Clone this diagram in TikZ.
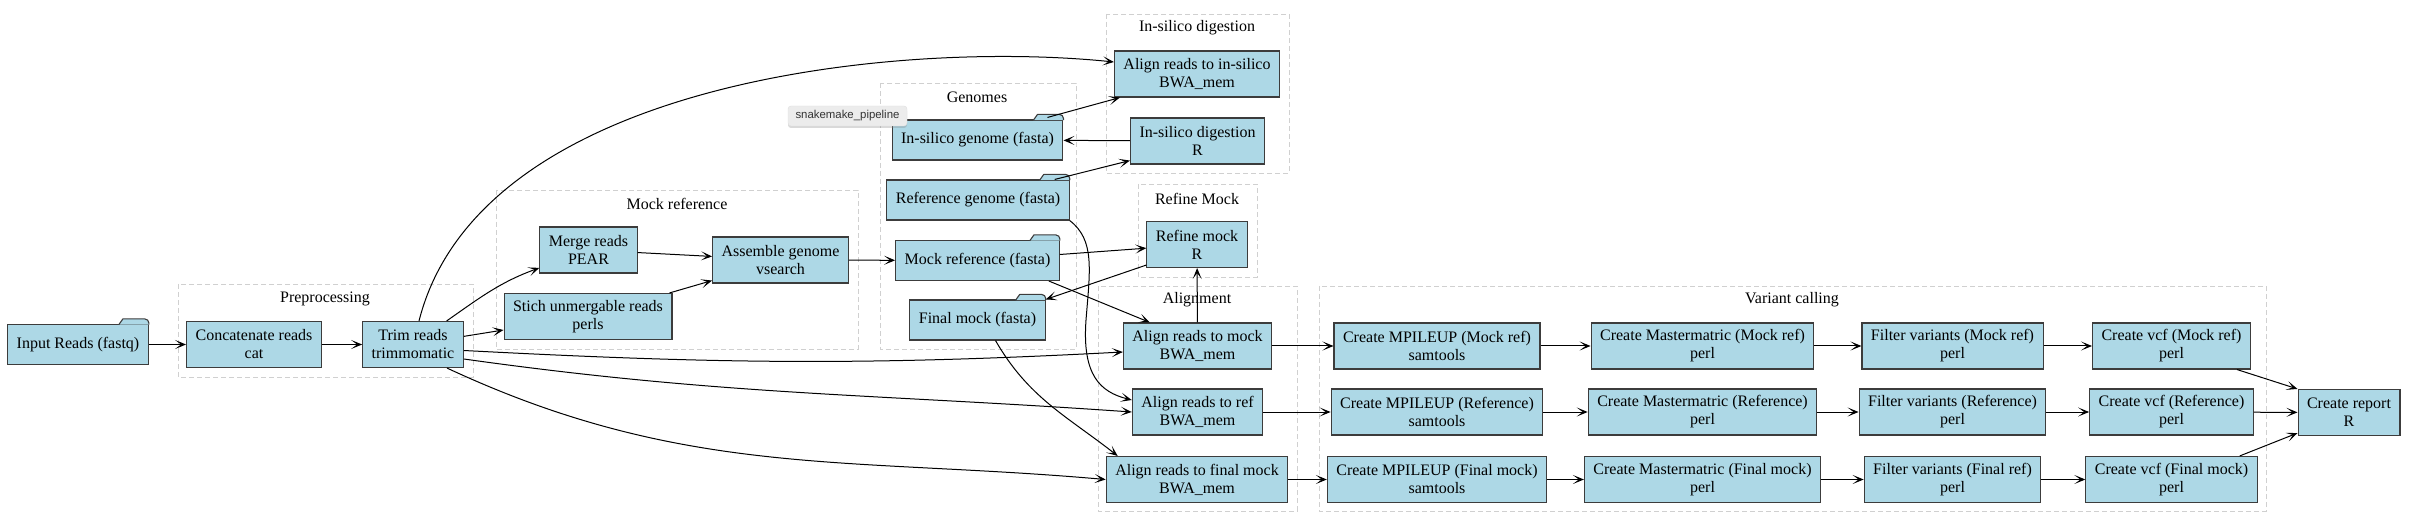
\documentclass[tikz,border=0pt]{standalone}
\usepackage{fontspec}
\setmainfont{Liberation Serif}
\newfontfamily\tipfont{Liberation Sans}
\usepackage{tikz}
\usetikzlibrary{arrows.meta, shadows}

\definecolor{boxblue}{HTML}{ADD8E6}
\definecolor{boxline}{HTML}{3C3C3C}
\definecolor{groupline}{HTML}{D0D0D0}

\tikzset{
    task/.style={draw=boxline, fill=boxblue, line width=1.1pt, align=center, inner xsep=9pt, inner ysep=2pt, minimum height=46pt},
    datafile/.style={task, minimum height=40pt},
    group/.style={draw=groupline, line width=0.9pt, dash pattern=on 5pt off 3pt},
    grouplabel/.style={inner sep=0pt},
    flow/.style={draw, -{Stealth[length=11pt,width=9pt,inset=6pt]}, line width=1pt},
    flows/.style={every edge/.style={flow}},
}

% tab on top of a data file box
\newcommand{\foldertab}[1]{%
    \filldraw[draw=boxline, fill=boxblue, line width=1.1pt, line join=round]
        ([xshift=-30pt,yshift=-0.6pt]#1.north east) -- ([xshift=-26pt,yshift=5pt]#1.north east)
        -- ([xshift=-4pt,yshift=5pt]#1.north east) to[out=0,in=90] ([yshift=1pt]#1.north east)
        -- ([yshift=-0.6pt]#1.north east);
}

\begin{document}
\begin{tikzpicture}[x=1pt, y=1pt, font=\fontsize{16}{18}\selectfont]
    \useasboundingbox (0,0) rectangle (2414,-526);

    % groups
    \draw[group] (178,-284) rectangle (473,-377);
    \node[grouplabel] (gpre) at (325,-299) {Preprocessing};
    \draw[group] (496,-190) rectangle (858,-349);
    \node[grouplabel] (gmock) at (677,-204) {Mock reference};
    \draw[group] (880,-83) rectangle (1076,-349);
    \node[grouplabel] (ggen) at (977,-97) {Genomes};
    \draw[group] (1106,-14) rectangle (1289,-173);
    \node[grouplabel] (gsil) at (1197,-28) {In-silico digestion};
    \draw[group] (1138,-184) rectangle (1257,-277);
    \node[grouplabel] (gref) at (1197,-199) {Refine Mock};
    \draw[group] (1098,-286) rectangle (1297,-511);
    \node[grouplabel] (galn) at (1197,-300) {Alignment};
    \draw[group] (1319,-286) rectangle (2266,-511);
    \node[grouplabel] (gvar) at (1792,-300) {Variant calling};

    % data files
    \node[datafile] (reads) at (78,-344.5) {Input Reads (fastq)};
    \node[datafile] (silgen) at (977.5,-140) {In-silico genome (fasta)};
    \node[datafile] (refgen) at (978,-200) {Reference genome (fasta)};
    \node[datafile] (mockref) at (977.5,-260.5) {Mock reference (fasta)};
    \node[datafile] (finalmock) at (977.5,-320) {Final mock (fasta)};
    \foreach \f in {reads,silgen,refgen,mockref,finalmock} {\foldertab{\f}}

    % steps
    \node[task] (cat) at (254,-344.5) {Concatenate reads\\cat};
    \node[task] (trim) at (413,-344.5) {Trim reads\\trimmomatic};
    \node[task] (merge) at (588.5,-250) {Merge reads\\PEAR};
    \node[task] (stich) at (588,-316.5) {Stich unmergable reads\\perls};
    \node[task] (assemble) at (780.5,-260) {Assemble genome\\vsearch};
    \node[task] (alignsil) at (1197,-74) {Align reads to in-silico\\BWA\_mem};
    \node[task] (digest) at (1197.5,-141) {In-silico digestion\\R};
    \node[task] (refine) at (1197,-244.5) {Refine mock\\R};
    \node[task] (alignmock) at (1197.5,-346) {Align reads to mock\\BWA\_mem};
    \node[task] (alignref) at (1197.5,-412) {Align reads to ref\\BWA\_mem};
    \node[task] (alignfinal) at (1197,-479.5) {Align reads to final mock\\BWA\_mem};

    \node[task] (mp1) at (1437,-346) {Create MPILEUP (Mock ref)\\samtools};
    \node[task] (mp2) at (1437,-412) {Create MPILEUP (Reference)\\samtools};
    \node[task] (mp3) at (1437,-479.5) {Create MPILEUP (Final mock)\\samtools};
    \node[task] (mm1) at (1702.5,-346) {Create Mastermatric (Mock ref)\\perl};
    \node[task] (mm2) at (1702.5,-412) {Create Mastermatric (Reference)\\perl};
    \node[task] (mm3) at (1702.5,-479.5) {Create Mastermatric (Final mock)\\perl};
    \node[task] (fv1) at (1952.5,-346) {Filter variants (Mock ref)\\perl};
    \node[task] (fv2) at (1952.5,-412) {Filter variants (Reference)\\perl};
    \node[task] (fv3) at (1952.5,-479.5) {Filter variants (Final ref)\\perl};
    \node[task] (vcf1) at (2171.5,-346) {Create vcf (Mock ref)\\perl};
    \node[task] (vcf2) at (2171.5,-412) {Create vcf (Reference)\\perl};
    \node[task] (vcf3) at (2171.5,-479.5) {Create vcf (Final mock)\\perl};
    \node[task] (report) at (2349,-412.5) {Create report\\R};

    % connectors
    \path[flows] (reads) edge (cat)
                 (cat) edge (trim)
                 (trim) edge[out=35, in=200] (merge)
                 (trim) edge (stich)
                 (merge) edge (assemble)
                 ([xshift=-3pt]stich.north east) edge ([yshift=3pt]assemble.south west)
                 (assemble) edge (mockref)
                 (digest) edge (silgen)
                 ([xshift=-15pt]refgen.north east) edge ([yshift=4pt]digest.south west)
                 ([xshift=-16pt,yshift=2pt]silgen.north east) edge ([xshift=6pt]alignsil.south west)
                 (mockref) edge (refine)
                 ([yshift=3pt]refine.south west) edge (finalmock.north east)
                 ([xshift=-11pt]mockref.south east) edge ([xshift=27pt]alignmock.north west)
                 (alignmock) edge (refine)
                 ([yshift=-6pt]trim.east) edge[out=-3, in=183] ([yshift=-6pt]alignmock.west)
                 ([yshift=-14.5pt]trim.east) edge[out=-8, in=176] (alignref.west)
                 ([xshift=34pt]trim.south) edge[out=-25, in=175] (alignfinal.west)
                 ([xshift=18pt]finalmock.south) edge[out=-60, in=142] ([xshift=12pt]alignfinal.north west)
                 (alignmock) edge (mp1)
                 (alignref) edge (mp2)
                 (alignfinal) edge (mp3)
                 ([xshift=-14pt]vcf1.south east) edge (report.north west)
                 (vcf2) edge (report)
                 ([xshift=-18pt]vcf3.north east) edge ([yshift=3pt]report.south west);
    \foreach \r in {1,2,3} {
        \path[flows] (mp\r) edge (mm\r)
                     (mm\r) edge (fv\r)
                     (fv\r) edge (vcf\r);
    }
    \draw[flow] ([xshift=6pt]trim.north) .. controls (480,-80) and (900,-40) .. ([yshift=12pt]alignsil.west);
    \draw[flow] (refgen.south east) .. controls (1095,-240) and (1090,-270) .. (1086,-320)
                .. controls (1082,-375) and (1100,-392) .. ([yshift=12pt]alignref.west);

    % tooltip
    \node[draw=gray!25, fill=gray!15, rounded corners=3pt, minimum width=119pt, minimum height=20pt,
          drop shadow={opacity=0.3, shadow xshift=0pt, shadow yshift=-2pt},
          font=\tipfont\fontsize{11.4}{12}\selectfont, text=gray!40!black] (tip) at (847.5,-116) {snakemake\_pipeline};
\end{tikzpicture}
\end{document}
